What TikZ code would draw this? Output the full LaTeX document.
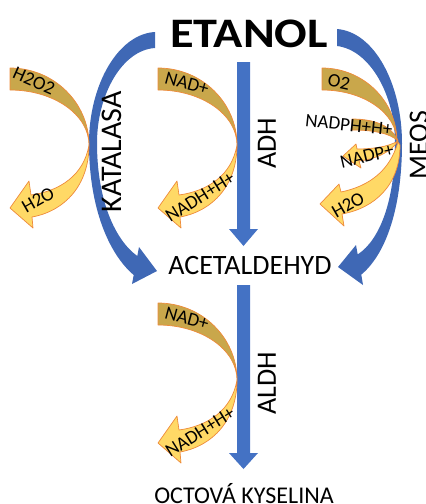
\documentclass[tikz,border=0pt]{standalone}
\usepackage{fontspec}
\setmainfont{Carlito}
\definecolor{shaftblue}{HTML}{4472C4}
\definecolor{arcblue}{HTML}{3F68B5}
\definecolor{golddark}{HTML}{C9A74B}
\definecolor{goldlight}{HTML}{FFD966}
\definecolor{goldline}{HTML}{EE8A3A}
\begin{document}
\begin{tikzpicture}[x=1pt,y=-1pt,
  bluefill/.style={fill=shaftblue,draw=none},
  arcfill/.style={fill=arcblue,draw=none},
  darkband/.style={fill=golddark,draw=goldline,line width=0.7pt,line join=round},
  lightband/.style={fill=goldlight,draw=goldline,line width=0.7pt,line join=round},
  molecule/.style={font=\fontsize{19}{19}\selectfont,inner sep=0pt},
  enzyme/.style={font=\fontsize{28}{28}\selectfont,inner sep=0pt,rotate=90},
  compound/.style={font=\fontsize{28}{28}\selectfont,inner sep=0pt},
  pics/cofactor/.style={code={
    % darker incoming band, narrowing to the touch point
    \fill[darkband] (0,0) .. controls (43.6,0) and (79,34.5) .. (79,77)
      .. controls (79,46.6) and (43.6,22) .. (0,22) -- cycle;
    % lighter outgoing band with its head
    \fill[lightband] (79,77) .. controls (74,107) and (50,123) .. (21,127)
      -- (19,113) -- (0,140) -- (23,160) -- (22,149)
      .. controls (55,143) and (79,117) .. (79,77) -- cycle;
  }}]
\useasboundingbox (0,0) rectangle (426,504);

% curved arrows from ethanol to acetaldehyde
\fill[arcfill] (155,32) .. controls (118,34) and (89,85) .. (89,143)
  .. controls (89,210) and (110,255) .. (133.7,275)
  -- (132,284) -- (157,271) -- (139,247) -- (137.3,256)
  .. controls (115,240) and (97,200) .. (97,143)
  .. controls (97,95) and (122,50) .. (155,48) -- cycle;
\fill[arcfill] (337,29) .. controls (375,32) and (402,85) .. (402,143)
  .. controls (402,210) and (385,255) .. (361.3,274.6)
  -- (363,285) -- (338,267) -- (356,245) -- (357.7,254.4)
  .. controls (380,240) and (395,200) .. (395,143)
  .. controls (395,95) and (370,50) .. (337,46) -- cycle;

% straight arrows
\fill[bluefill] (237,62) -- (250,62) -- (250,229) -- (258,229) -- (243.5,246)
  -- (229,229) -- (237,229) -- cycle;
\fill[bluefill] (237,285) -- (250,285) -- (250,453) -- (258,453) -- (243.5,469)
  -- (229,453) -- (237,453) -- cycle;

% cofactor arrows
\pic at (10,68) {cofactor};
\pic at (158,68) {cofactor};
\pic at (158,303) {cofactor};

% MEOS cofactors
\fill[darkband] (322,68) .. controls (363.4,68) and (397,101) .. (397,142)
  .. controls (397,113) and (363.4,90) .. (322,90) -- cycle;
\fill[darkband] (352,119) .. controls (375,119) and (392,126) .. (398,141)
  .. controls (390,133) and (372,130) .. (352,130) -- cycle;
\fill[lightband] (398,141) .. controls (388,147) and (372,149) .. (357,149)
  -- (356,144) -- (343,156) -- (361,168) -- (359,161)
  .. controls (375,159) and (390,153) .. (398,141) -- cycle;
\fill[lightband] (398,142) .. controls (390,170) and (370,186) .. (341,192)
  -- (339,184) -- (320,204) -- (344,226) -- (342,214)
  .. controls (375,208) and (400,185) .. (400,145) -- cycle;

% compounds
\node[font=\bfseries\fontsize{42}{42}\selectfont,inner sep=0pt,xscale=1.15] (etanol) at (249,33.5) {ETANOL};
\node[compound] (acetaldehyd) at (250,266) {ACETALDEHYD};
\node[font=\fontsize{24}{24}\selectfont,inner sep=0pt,anchor=base] (octova) at (244,503) {OCTOVÁ KYSELINA};

% enzymes
\node[enzyme] (adh) at (267,143) {ADH};
\node[enzyme] (aldh) at (267,383) {ALDH};
\node[enzyme,font=\fontsize{30}{30}\selectfont] (katalasa) at (112,152) {KATALASA};
\node[enzyme] (meos) at (419,145) {MEOS};

% cofactor labels
\node[molecule,rotate=-24] (h2o2) at (34,81) {H2O2};
\node[molecule,rotate=30] (h2oK) at (38,200) {H2O};
\node[molecule,rotate=-15] (nadA) at (187,83) {NAD+};
\node[molecule,rotate=32] (nadhA) at (200,197) {NADH+H+};
\node[molecule,rotate=-15] (nadB) at (187,318) {NAD+};
\node[molecule,rotate=32] (nadhB) at (200,432) {NADH+H+};
\node[molecule,rotate=-12] (o2) at (339,82) {O2};
\node[molecule,rotate=-6] (nadph) at (349,125) {NADPH+H+};
\node[molecule,rotate=13] (nadp) at (367,156) {NADP+};
\node[molecule,rotate=30] (h2oM) at (348,205) {H2O};
\end{tikzpicture}
\end{document}
